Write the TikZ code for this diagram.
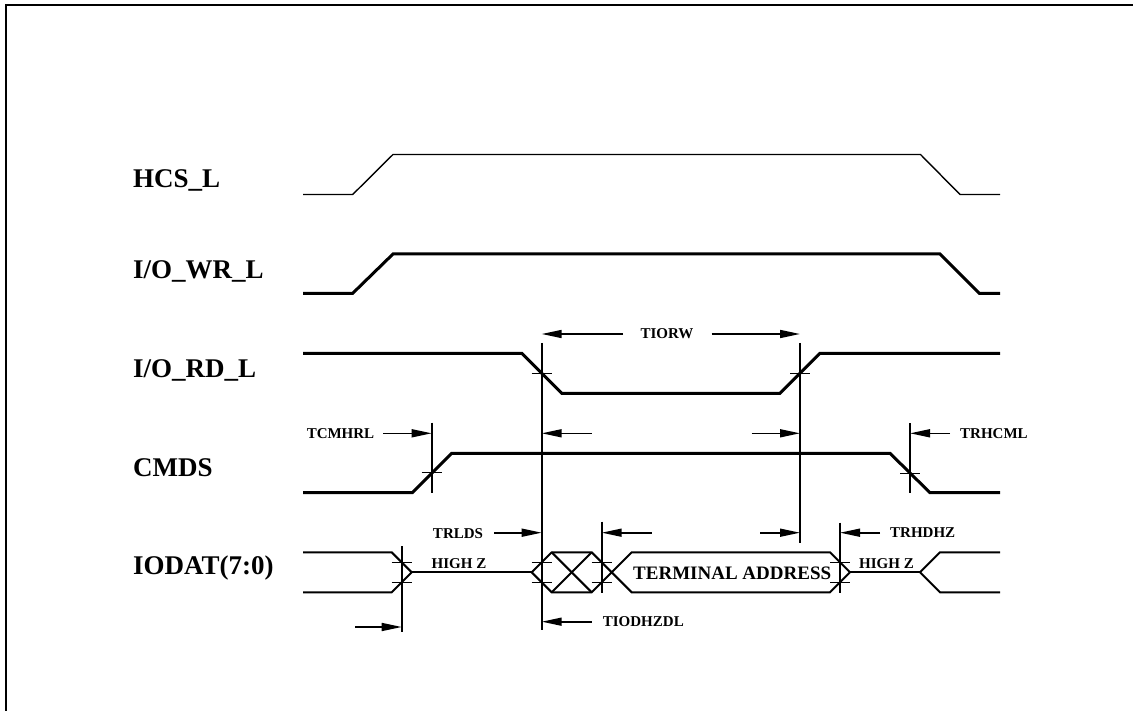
\documentclass[tikz,border=0pt]{standalone}
\usepackage{fontspec}
\setmainfont{Liberation Serif}
\usetikzlibrary{arrows.meta}
\tikzset{
  thinsig/.style={line width=1.4pt},
  thicksig/.style={line width=3pt},
  bussig/.style={line width=2pt, line join=miter},
  guide/.style={line width=1.6pt},
  xmark/.style={line width=1.4pt},
  dim/.style={line width=1.6pt, -{Triangle[length=20pt,width=8pt]}},
  siglabel/.style={font=\fontsize{27}{27}\selectfont\bfseries, anchor=west, inner sep=0pt},
  tlabel/.style={font=\fontsize{15}{15}\selectfont\bfseries, inner sep=0pt},
}
\def\xtick(#1,#2){\draw[xmark] (#1-10,#2) -- (#1+10,#2);}

\begin{document}
\begin{tikzpicture}[x=1pt,y=-1pt]
			%%%%% FRAME %%%%%
			\useasboundingbox (0,0) rectangle (1133,711);
			\draw[line width=2pt] (6,711) -- (6,5) -- (1133,5);
			
			%%%%% SIGNAL NAMES %%%%%
			\node[siglabel] (hcs)   at (133,180) {HCS\_L};
			\node[siglabel] (iowr)  at (133,271) {I/O\_WR\_L};
			\node[siglabel] (iord)  at (133,370) {I/O\_RD\_L};
			\node[siglabel] (cmds)  at (133,468) {CMDS};
			\node[siglabel] (iodat) at (133,568) {IODAT(7:0)};
			
			%%%%% WAVES %%%%%
			\draw[thinsig]  (303,194.5) -- (352.7,194.5) -- (393,154.5) -- (920.5,154.5) -- (960,194.5) -- (1000,194.5);
			\draw[thicksig] (303,293.3) -- (352.7,293.3) -- (393,254) -- (940,254) -- (979.3,293.3) -- (1000,293.3);
			\draw[thicksig] (303,353.3) -- (521.7,353.3) -- (561.7,393.3) -- (780,393.3) -- (820,353.3) -- (1000,353.3);
			\draw[thicksig] (303,492.7) -- (412.2,492.7) -- (451.7,453.3) -- (890,453.3) -- (930,492.7) -- (1000,492.7);
			
			% data bus
			\draw[bussig] (303,552.3) -- (391.7,552.3) -- (411.7,572.3) -- (391.7,592.3) -- (303,592.3);
			\draw[bussig] (411.7,572.3) -- (531.7,572.3);
			\draw[bussig] (531.7,572.3) -- (551.7,552.3) -- (591.7,552.3) -- (611.7,572.3) -- (631.7,552.3) -- (830,552.3)
			  -- (850,572.3) -- (830,592.3) -- (631.7,592.3) -- (611.7,572.3) -- (591.7,592.3) -- (551.7,592.3) -- cycle;
			\draw[bussig] (551.7,552.3) -- (591.7,592.3);
			\draw[bussig] (551.7,592.3) -- (591.7,552.3);
			\draw[bussig] (850,572.3) -- (920,572.3);
			\draw[bussig] (1000,552.3) -- (940,552.3) -- (920,572.3) -- (940,592.3) -- (1000,592.3);
			\node[font=\fontsize{19}{19}\selectfont\bfseries, anchor=west, inner sep=0pt] (addr) at (633,573) {TERMINAL ADDRESS};
			\node[tlabel] (hizl) at (459,564) {HIGH Z};
			\node[tlabel] (hizr) at (886.5,564) {HIGH Z};
			
			%%%%% GUIDES %%%%%
			\draw[guide] (401.7,546) -- (401.7,632);
			\draw[guide] (431.7,422.7) -- (431.7,493);
			\draw[guide] (541.7,343) -- (541.7,630);
			\draw[guide] (601.7,521.7) -- (601.7,593.3);
			\draw[guide] (800,343) -- (800,542.7);
			\draw[guide] (840,522.7) -- (840,593.3);
			\draw[guide] (910,423.3) -- (910,493);
			
			\xtick(541.7,373.3)
			\xtick(800,373.3)
			\xtick(431.7,472.7)
			\xtick(910,473.3)
			\foreach \gx in {401.7,541.7,601.7,840}{
				\xtick(\gx,562.3)
				\xtick(\gx,582.3)
			}
			
			%%%%% TIMINGS %%%%%
			\node[tlabel] (tiorw) at (667,334) {TIORW};
			\draw[dim] (623,334) -- (541.7,334);
			\draw[dim] (711.7,334) -- (800,334);
			
			\draw[dim] (591.7,433.3) -- (541.7,433.3);
			\draw[dim] (751.7,433.3) -- (800,433.3);
			
			\node[tlabel] (tcmhrl) at (340.5,433.3) {TCMHRL};
			\draw[dim] (383.3,433.3) -- (431.7,433.3);
			
			\node[tlabel, anchor=west] (trhcml) at (960,433.3) {TRHCML};
			\draw[dim] (950,433.3) -- (910,433.3);
			
			\node[tlabel] (trlds) at (458,533.5) {TRLDS};
			\draw[dim] (494,532.7) -- (541.7,532.7);
			
			\draw[dim] (651.7,532.7) -- (601.7,532.7);
			\draw[dim] (760,532.7) -- (800,532.7);
			
			\node[tlabel, anchor=west] (trhdhz) at (890,532.7) {TRHDHZ};
			\draw[dim] (880,532.7) -- (840,532.7);
			
			\node[tlabel, anchor=west] (tiodhzdl) at (602.7,621.7) {TIODHZDL};
			\draw[dim] (591.7,621.7) -- (541.7,621.7);
			
			\draw[dim] (355,627) -- (401.7,627);
			
		\end{tikzpicture}
\end{document}
